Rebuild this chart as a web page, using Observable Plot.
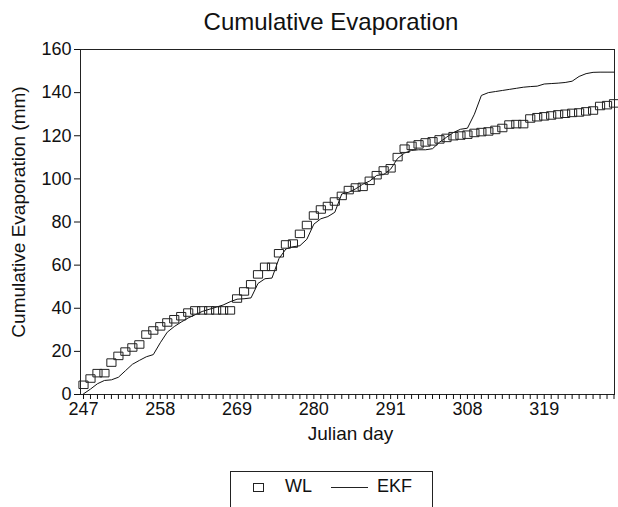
<!DOCTYPE html>
<html>
<head>
<meta charset="utf-8">
<script src="https://cdn.jsdelivr.net/npm/d3@7"></script>
<script src="https://cdn.jsdelivr.net/npm/@observablehq/plot@0.6"></script>
<style>
  html, body { margin: 0; padding: 0; background: #fff; }
  #wrap { position: relative; width: 618px; height: 507px; overflow: hidden; font-family: "Liberation Sans", Arial, sans-serif; color: #111; }
  #title { position: absolute; left: 0; width: 662px; top: 8px; text-align: center; font-size: 24px; line-height: 28px; }
  #chart { position: absolute; left: 0; top: 0; }
  #legend { position: absolute; left: 230px; top: 471px; width: 201px; height: 40px; border: 1px solid #222; border-bottom: none; font-size: 18px; }
  #legend .sq { position: absolute; left: 22px; top: 11px; width: 9px; height: 7px; border: 1px solid #222; }
  #legend .wl { position: absolute; left: 54px; top: 4px; }
  #legend .ln { position: absolute; left: 100px; top: 15px; width: 37px; height: 0; border-top: 1px solid #222; }
  #legend .ekf { position: absolute; left: 146px; top: 4px; }
</style>
</head>
<body>
<div id="wrap">
  <div id="chart"></div>
  <div id="title">Cumulative Evaporation</div>
  <div id="legend"><span class="sq"></span><span class="wl">WL</span><span class="ln"></span><span class="ekf">EKF</span></div>
</div>
<script>
// Julian days on the (categorical) x axis
const days = [
  247,248,249,250,251,252,253,254,255,256,257,258,259,260,261,262,263,264,265,266,
  267,268,269,270,271,272,273,274,275,276,277,278,279,280,281,282,283,284,285,286,
  287,288,289,290,291,292,293,294,295,296,297,298,299,300,301,
  308,309,310,311,312,313,314,315,316,317,318,319,320,321,322,323,324,325,326,327,328,329
];
// Labelled ticks
const tickDays = [247, 258, 269, 280, 291, 308, 319];
const yTicks = [0, 20, 40, 60, 80, 100, 120, 140, 160];

// WL cumulative evaporation (mm)
const wl = [
  4.5, 7.4, 9.9, 9.9, 14.8, 17.9, 19.9, 21.8, 23.2, 27.8,
  29.7, 31.6, 33.4, 34.9, 36.3, 38.0, 39.0, 39.0, 39.0, 39.0,
  39.0, 39.0, 44.5, 47.8, 51.1, 55.7, 59.2, 59.2, 65.5, 69.6,
  70.0, 74.5, 78.6, 83.0, 85.8, 87.4, 89.5, 92.1, 94.8, 96.0,
  96.3, 99.1, 101.7, 103.9, 104.9, 110.1, 114.0, 115.3, 116.0, 116.9,
  117.4, 118.3, 119.0, 119.8, 120.1, 120.5, 121.3, 121.7, 122.0, 122.7,
  123.6, 125.2, 125.4, 125.4, 128.0, 128.6, 129.0, 129.4, 129.9, 130.2,
  130.6, 130.8, 131.3, 131.7, 133.8, 134.2, 135.0
];
// EKF cumulative evaporation (mm)
const ekf = [
  0.3, 2.5, 5.0, 6.5, 6.8, 8.0, 11.0, 14.0, 15.8, 17.5,
  18.5, 24.0, 28.9, 31.5, 33.6, 35.5, 37.0, 38.5, 39.5, 40.5,
  41.5, 43.0, 44.2, 44.4, 44.8, 51.5, 53.7, 54.0, 63.0, 67.5,
  68.5, 69.0, 72.0, 79.0, 81.5, 82.5, 84.5, 93.0, 93.8, 95.4,
  97.5, 99.0, 101.6, 102.0, 104.5, 109.5, 112.0, 113.2, 113.5, 113.5,
  114.0, 117.0, 119.3, 121.5, 123.0, 123.5, 130.0, 138.7, 140.0, 140.5,
  141.0, 141.5, 142.0, 142.5, 142.8, 143.0, 144.0, 144.2, 144.4, 144.7,
  145.3, 147.5, 148.8, 149.4, 149.5, 149.5, 149.5
];

const data = days.map((d, i) => ({i, day: d, wl: wl[i], ekf: ekf[i]}));
const idx = days.map((d, i) => i);

// open rectangle symbol, slightly wider than tall
const rectSymbol = {
  draw(ctx, size) {
    const s = Math.sqrt(size);
    const w = s * 0.55, h = s * 0.45;
    ctx.moveTo(-w, -h); ctx.lineTo(w, -h); ctx.lineTo(w, h); ctx.lineTo(-w, h); ctx.closePath();
  }
};

const chart = Plot.plot({
  width: 618,
  height: 460,
  marginLeft: 80,
  marginRight: 4,
  marginTop: 49,
  marginBottom: 66,
  style: {fontFamily: "'Liberation Sans', Arial, sans-serif", fontSize: "18px", color: "#111", background: "transparent"},
  x: {type: "linear", domain: [-0.43, 76.07]},
  y: {domain: [0, 160]},
  marks: [
    Plot.frame({stroke: "#222", strokeWidth: 1}),
    Plot.axisY({ticks: yTicks, tickSize: 6, tickPadding: 3, label: null, fontSize: 18, strokeWidth: 1}),
    Plot.axisX({ticks: idx, tickSize: 5, tickPadding: 3, label: null, fontSize: 18,
      tickFormat: i => tickDays.includes(days[i]) ? String(days[i]) : ""}),
    Plot.text(["Julian day"], {frameAnchor: "bottom", dy: 45, dx: 3, fontSize: 19, textAnchor: "middle"}),
    Plot.text(["Cumulative Evaporation (mm)"], {frameAnchor: "left", rotate: -90, dx: -62, dy: -10, fontSize: 19, textAnchor: "middle"}),
    Plot.line(data, {x: "i", y: "ekf", stroke: "#111", strokeWidth: 1}),
    Plot.dot(data, {x: "i", y: "wl", symbol: rectSymbol, r: 4.7, stroke: "#222", strokeWidth: 1, fill: "none"})
  ]
});
document.getElementById("chart").appendChild(chart);
</script>
</body>
</html>
